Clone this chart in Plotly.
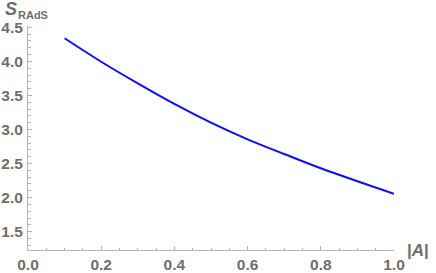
import plotly.graph_objects as go

A_vals = [0.1, 0.2, 0.3, 0.4, 0.5, 0.6, 0.7, 0.8, 0.9, 1.0]
S_vals = [4.34, 3.995, 3.677, 3.375, 3.10, 2.855, 2.64, 2.43, 2.24, 2.055]

x_ticks = [0.0, 0.2, 0.4, 0.6, 0.8, 1.0]
x_ticklabels = ["0.0", "0.2", "0.4", "0.6", "0.8", "1.0"]
y_ticks = [1.5, 2.0, 2.5, 3.0, 3.5, 4.0, 4.5]
y_ticklabels = ["1.5", "2.0", "2.5", "3.0", "3.5", "4.0", "4.5"]

fig = go.Figure()
fig.add_trace(go.Scatter(x=A_vals, y=S_vals, mode="lines",
                         line=dict(color="#0c0cff", width=2, shape="spline"),
                         showlegend=False, hoverinfo="skip"))

tickfont = dict(family="Liberation Sans", size=15.5, color="#6e6e6e", weight="bold")
axcol = "#b4b4b4"
labcol = "#6e6e6e"
fig.update_layout(
    width=436, height=273,
    margin=dict(l=28, r=42, t=26, b=23, autoexpand=False),
    paper_bgcolor="white", plot_bgcolor="white",
    xaxis=dict(range=[0, 1.0], tickvals=x_ticks, ticktext=x_ticklabels,
               ticks="inside", ticklen=4, tickcolor=axcol, tickwidth=1,
               showline=True, linecolor=axcol, linewidth=1, showgrid=False,
               zeroline=False, tickfont=tickfont, ticklabelstandoff=0,
               automargin=False,
               minor=dict(dtick=0.05, tick0=0, ticks="inside", ticklen=2.5,
                          tickcolor=axcol, showgrid=False)),
    yaxis=dict(range=[1.23, 4.52], tickvals=y_ticks, ticktext=y_ticklabels,
               ticks="inside", ticklen=4, tickcolor=axcol, tickwidth=1,
               showline=True, linecolor=axcol, linewidth=1, showgrid=False,
               zeroline=False, tickfont=tickfont, ticklabelstandoff=1,
               automargin=False,
               minor=dict(dtick=0.1, tick0=0, ticks="inside", ticklen=2.5,
                          tickcolor=axcol, showgrid=False)),
    annotations=[
        dict(text="<i>S</i>", xref="paper", yref="paper",
             x=-0.065, y=1.074, xanchor="left", yanchor="middle", showarrow=False,
             borderpad=0,
             font=dict(family="Liberation Sans", size=18, color=labcol, weight="bold")),
        dict(text="RAdS", xref="paper", yref="paper",
             x=-0.029, y=1.05, xanchor="left", yanchor="middle", showarrow=False,
             borderpad=0,
             font=dict(family="Liberation Sans", size=11, color=labcol, weight="bold")),
        dict(text="|<i>A</i>|", xref="paper", yref="paper",
             x=1.03, y=0.0, xanchor="left", yanchor="middle", showarrow=False,
             font=dict(family="Liberation Sans", size=17, color=labcol, weight="bold")),
    ],
)

fig.write_html("out.html", config={"displayModeBar": False},
               post_script="document.body.style.margin='0';document.body.style.overflow='hidden';")
